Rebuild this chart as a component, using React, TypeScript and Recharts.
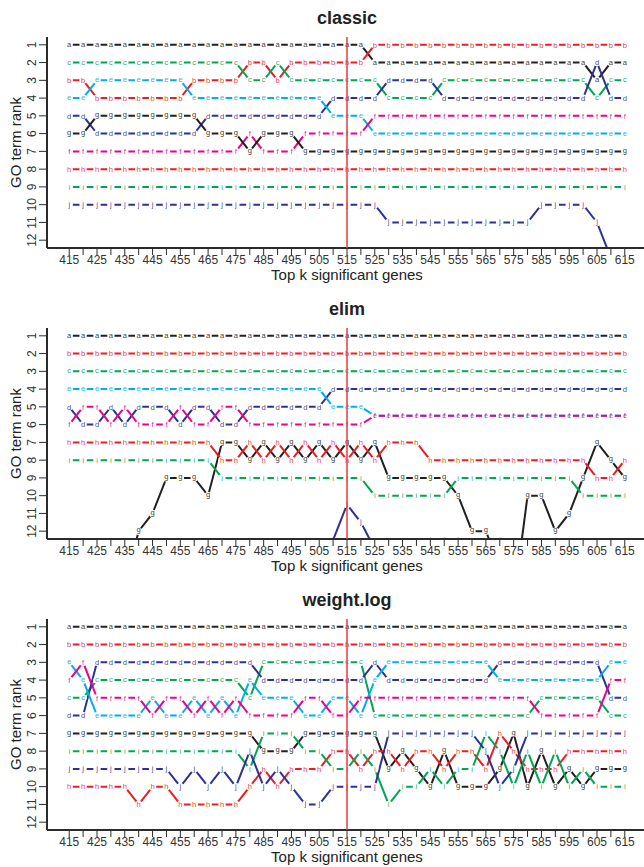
import React from 'react';
import { LineChart, Line, XAxis, YAxis, ReferenceLine } from 'recharts';

const FONT = '"Liberation Sans", Arial, Helvetica, sans-serif';

// x positions (top k significant genes)
const kValues = [415, 420, 425, 430, 435, 440, 445, 450, 455, 460, 465, 470, 475, 480, 485, 490, 495, 500, 505, 510, 515, 520, 525, 530, 535, 540, 545, 550, 555, 560, 565, 570, 575, 580, 585, 590, 595, 600, 605, 610, 615];
const xTickLabels = [415, 425, 435, 445, 455, 465, 475, 485, 495, 505, 515, 525, 535, 545, 555, 565, 575, 585, 595, 605, 615];
const rankTicks = [1, 2, 3, 4, 5, 6, 7, 8, 9, 10, 11, 12];
const cutoffK = 515;

const termLetters = ['a', 'b', 'c', 'd', 'e', 'f', 'g', 'h', 'i', 'j'];
const termColors = ['#231F20', '#ED1C24', '#00A651', '#2E3192', '#00AEEF', '#EC008C', '#231F20', '#ED1C24', '#00A651', '#2E3192'];
const letterDy: Record<string, number> = { a: 0.26, b: 0.36, c: 0.26, d: 0.36, e: 0.26, f: 0.36, g: 0.16, h: 0.36, i: 0.36, j: 0.25 };

// ---------- classic ----------
const classicA = [1, 1, 1, 1, 1, 1, 1, 1, 1, 1, 1, 1, 1, 1, 1, 1, 1, 1, 1, 1, 1, 1, 2, 2, 2, 2, 2, 2, 2, 2, 2, 2, 2, 2, 2, 2, 2, 2, 3, 2, 2];
const classicB = [3, 3, 4, 4, 4, 4, 4, 4, 4, 3, 3, 3, 3, 2, 2, 3, 2, 2, 2, 2, 2, 2, 1, 1, 1, 1, 1, 1, 1, 1, 1, 1, 1, 1, 1, 1, 1, 1, 1, 1, 1];
const classicC = [2, 2, 2, 2, 2, 2, 2, 2, 2, 2, 2, 2, 2, 3, 3, 2, 3, 3, 3, 3, 3, 3, 3, 4, 4, 4, 4, 3, 3, 3, 3, 3, 3, 3, 3, 3, 3, 3, 4, 3, 3];
const classicD = [5, 5, 6, 6, 6, 6, 6, 6, 6, 6, 5, 5, 5, 5, 5, 5, 5, 5, 5, 4, 4, 4, 4, 3, 3, 3, 3, 4, 4, 4, 4, 4, 4, 4, 4, 4, 4, 4, 2, 4, 4];
const classicE = [4, 4, 3, 3, 3, 3, 3, 3, 3, 4, 4, 4, 4, 4, 4, 4, 4, 4, 4, 5, 5, 5, 6, 6, 6, 6, 6, 6, 6, 6, 6, 6, 6, 6, 6, 6, 6, 6, 6, 6, 6];
const classicF = [7, 7, 7, 7, 7, 7, 7, 7, 7, 7, 7, 7, 7, 6, 7, 7, 7, 6, 6, 6, 6, 6, 5, 5, 5, 5, 5, 5, 5, 5, 5, 5, 5, 5, 5, 5, 5, 5, 5, 5, 5];
const classicG = [6, 6, 5, 5, 5, 5, 5, 5, 5, 5, 6, 6, 6, 7, 6, 6, 6, 7, 7, 7, 7, 7, 7, 7, 7, 7, 7, 7, 7, 7, 7, 7, 7, 7, 7, 7, 7, 7, 7, 7, 7];
const classicH = [8, 8, 8, 8, 8, 8, 8, 8, 8, 8, 8, 8, 8, 8, 8, 8, 8, 8, 8, 8, 8, 8, 8, 8, 8, 8, 8, 8, 8, 8, 8, 8, 8, 8, 8, 8, 8, 8, 8, 8, 8];
const classicI = [9, 9, 9, 9, 9, 9, 9, 9, 9, 9, 9, 9, 9, 9, 9, 9, 9, 9, 9, 9, 9, 9, 9, 9, 9, 9, 9, 9, 9, 9, 9, 9, 9, 9, 9, 9, 9, 9, 9, 9, 9];
const classicJ = [10, 10, 10, 10, 10, 10, 10, 10, 10, 10, 10, 10, 10, 10, 10, 10, 10, 10, 10, 10, 10, 10, 10, 11, 11, 11, 11, 11, 11, 11, 11, 11, 11, 11, 10, 10, 10, 10, 11, 13, 14];

// ---------- elim ----------
const elimA = [1, 1, 1, 1, 1, 1, 1, 1, 1, 1, 1, 1, 1, 1, 1, 1, 1, 1, 1, 1, 1, 1, 1, 1, 1, 1, 1, 1, 1, 1, 1, 1, 1, 1, 1, 1, 1, 1, 1, 1, 1];
const elimB = [2, 2, 2, 2, 2, 2, 2, 2, 2, 2, 2, 2, 2, 2, 2, 2, 2, 2, 2, 2, 2, 2, 2, 2, 2, 2, 2, 2, 2, 2, 2, 2, 2, 2, 2, 2, 2, 2, 2, 2, 2];
const elimC = [3, 3, 3, 3, 3, 3, 3, 3, 3, 3, 3, 3, 3, 3, 3, 3, 3, 3, 3, 3, 3, 3, 3, 3, 3, 3, 3, 3, 3, 3, 3, 3, 3, 3, 3, 3, 3, 3, 3, 3, 3];
const elimD = [5, 6, 6, 5, 6, 5, 5, 5, 6, 5, 5, 6, 6, 5, 5, 5, 5, 5, 5, 4, 4, 4, 4, 4, 4, 4, 4, 4, 4, 4, 4, 4, 4, 4, 4, 4, 4, 4, 4, 4, 4];
const elimE = [4, 4, 4, 4, 4, 4, 4, 4, 4, 4, 4, 4, 4, 4, 4, 4, 4, 4, 4, 5, 5, 5, 5.5, 5.5, 5.5, 5.5, 5.5, 5.5, 5.5, 5.5, 5.5, 5.5, 5.5, 5.5, 5.5, 5.5, 5.5, 5.5, 5.5, 5.5, 5.5];
const elimF = [6, 5, 5, 6, 5, 6, 6, 6, 5, 6, 6, 5, 5, 6, 6, 6, 6, 6, 6, 6, 6, 6, 5.5, 5.5, 5.5, 5.5, 5.5, 5.5, 5.5, 5.5, 5.5, 5.5, 5.5, 5.5, 5.5, 5.5, 5.5, 5.5, 5.5, 5.5, 5.5];
const elimG = [15, 15, 15, 15, 15, 12, 11, 9, 9, 9, 10, 7, 7, 8, 7, 8, 7, 8, 7, 8, 7, 8, 7, 9, 9, 9, 9, 9, 10, 12, 12, 14, 16, 10, 10, 12, 11, 9, 7, 8, 9];
const elimH = [7, 7, 7, 7, 7, 7, 7, 7, 7, 7, 7, 8, 8, 7, 8, 7, 8, 7, 8, 7, 8, 7, 8, 7, 7, 7, 8, 8, 8, 8, 8, 8, 8, 8, 8, 8, 8, 8, 9, 9, 8];
const elimI = [8, 8, 8, 8, 8, 8, 8, 8, 8, 8, 8, 9, 9, 9, 9, 9, 9, 9, 9, 9, 9, 9, 10, 10, 10, 10, 10, 10, 9, 9, 9, 9, 9, 9, 9, 9, 9, 10, 10, 10, 10];
const elimJ = [13, 13, 13, 13, 13, 13, 13, 13, 13, 13, 13, 13, 13, 13, 13, 13, 13, 13, 13, 12.5, 10.5, 11.5, 13, 13, 13, 13, 12.5, 12.5, 12.5, 13, 13, 12.5, 13, 13, 13, 13, 13, 13, 13, 13, 13];

// ---------- weight.log ----------
const weightA = [1, 1, 1, 1, 1, 1, 1, 1, 1, 1, 1, 1, 1, 1, 1, 1, 1, 1, 1, 1, 1, 1, 1, 1, 1, 1, 1, 1, 1, 1, 1, 1, 1, 1, 1, 1, 1, 1, 1, 1, 1];
const weightB = [2, 2, 2, 2, 2, 2, 2, 2, 2, 2, 2, 2, 2, 2, 2, 2, 2, 2, 2, 2, 2, 2, 2, 2, 2, 2, 2, 2, 2, 2, 2, 2, 2, 2, 2, 2, 2, 2, 2, 2, 2];
const weightC = [5, 5, 4, 4, 4, 4, 4, 4, 4, 4, 4, 4, 4, 5, 3, 3, 3, 3, 3, 3, 3, 3, 6, 6, 6, 6, 6, 6, 6, 6, 6, 6, 6, 6, 5, 5, 5, 5, 5, 6, 6];
const weightD = [6, 6, 3, 3, 3, 3, 3, 3, 3, 3, 3, 3, 3, 3, 4, 4, 4, 4, 4, 4, 4, 4, 3, 4, 4, 4, 4, 4, 4, 4, 4, 3, 3, 3, 3, 3, 3, 3, 3, 5, 5];
const weightE = [3, 4, 6, 6, 6, 6, 5, 6, 6, 5, 6, 5, 6, 4, 5, 5, 5, 6, 6, 5, 5, 6, 4, 3, 3, 3, 3, 3, 3, 3, 3, 4, 4, 4, 4, 4, 4, 4, 4, 3, 3];
const weightF = [4, 3, 5, 5, 5, 5, 6, 5, 5, 6, 5, 6, 5, 6, 6, 6, 6, 5, 5, 6, 6, 5, 5, 5, 5, 5, 5, 5, 5, 5, 5, 5, 5, 5, 6, 6, 6, 6, 6, 4, 4];
const weightG = [7, 7, 7, 7, 7, 7, 7, 7, 7, 7, 7, 7, 7, 7, 8, 8, 8, 7, 7, 7, 7, 7, 7, 9, 8, 9, 10, 8, 10, 10, 10, 9, 7, 10, 8, 10, 9, 10, 9, 9, 9];
const weightH = [10, 10, 10, 10, 10, 11, 10, 10, 11, 11, 11, 11, 11, 10, 9, 10, 9, 9, 9, 8, 8, 9, 8, 8, 9, 8, 8, 9, 8, 8, 9, 7, 8, 9, 9, 9, 8, 8, 8, 8, 8];
const weightI = [8, 8, 8, 8, 8, 8, 8, 8, 8, 8, 8, 8, 8, 9, 7, 7, 7, 8, 8, 9, 9, 8, 9, 11, 10, 10, 9, 10, 9, 9, 7, 8, 10, 8, 10, 8, 10, 9, 10, 10, 10];
const weightJ = [9, 9, 9, 9, 9, 9, 9, 9, 10, 9, 10, 9, 10, 8, 10, 9, 10, 11, 11, 10, 10, 10, 10, 7, 7, 7, 7, 7, 7, 7, 8, 10, 9, 7, 7, 7, 7, 7, 7, 7, 7];

const classicSeries = [classicA, classicB, classicC, classicD, classicE, classicF, classicG, classicH, classicI, classicJ];
const elimSeries = [elimA, elimB, elimC, elimD, elimE, elimF, elimG, elimH, elimI, elimJ];
const weightSeries = [weightA, weightB, weightC, weightD, weightE, weightF, weightG, weightH, weightI, weightJ];

function buildRows(series: number[][]) {
  return kValues.map((k, i) => {
    const row: Record<string, number> = { k };
    termLetters.forEach((l, s) => {
      row[l] = series[s][i];
    });
    return row;
  });
}

const AXIS_COLOR = '#2b2b2b';

const XTick = (p: any) => {
  const v = p.payload ? p.payload.value : undefined;
  if (!xTickLabels.includes(v)) return <g />;
  return (
    <text x={p.x} y={p.y + 8.5} textAnchor="middle" fontSize={12} fill="#333" fontFamily={FONT}>
      {v}
    </text>
  );
};

const YTick = (p: any) => {
  const v = p.payload ? p.payload.value : '';
  return (
    <text
      transform={`translate(${p.x - 7},${p.y}) rotate(-90)`}
      x={0}
      y={0}
      dy="0.36em"
      textAnchor="middle"
      fontSize={12}
      fill="#333"
      fontFamily={FONT}
    >
      {v}
    </text>
  );
};

const makeGapDot = (letter: string) => (p: any) => {
  const v = typeof p.value === 'number' ? p.value : p.payload ? p.payload[letter] : 0;
  if (p.cx == null || p.cy == null || v > 12.4) return <g key={`gap-${letter}-${p.index}`} />;
  return <circle key={`gap-${letter}-${p.index}`} cx={p.cx} cy={p.cy} r={3.7} fill="#ffffff" />;
};

const makeLetterDot = (letter: string, color: string) => (p: any) => {
  if (p.cx == null || p.cy == null) return <g key={`lt-${letter}-${p.index}`} />;
  return (
    <text
      key={`lt-${letter}-${p.index}`}
      x={p.cx}
      y={p.cy}
      dy={`${letterDy[letter]}em`}
      textAnchor="middle"
      fontSize={7.6}
      fontFamily={FONT}
      fill={color}
      fillOpacity={0.9}
    >
      {letter}
    </text>
  );
};

function Panel({ title, series, top }: { title: string; series: number[][]; top: number }) {
  const data = buildRows(series);
  return (
    <div style={{ position: 'absolute', left: 0, top, width: 644, height: 291, overflow: 'hidden' }}>
      <LineChart width={648} height={291} data={data} margin={{ top: 37, right: 1, bottom: 0, left: 0 }}>
        <XAxis
          dataKey="k"
          type="number"
          domain={[407, 623]}
          allowDataOverflow
          ticks={kValues}
          interval={0}
          height={43}
          tickSize={7}
          tickMargin={0}
          tick={<XTick />}
          stroke={AXIS_COLOR}
          axisLine={{ stroke: AXIS_COLOR, strokeWidth: 2 }}
          tickLine={{ stroke: AXIS_COLOR, strokeWidth: 1 }}
        />
        <XAxis
          xAxisId="top"
          orientation="top"
          dataKey="k"
          type="number"
          domain={[407, 623]}
          allowDataOverflow
          height={0}
          tick={false}
          tickLine={false}
          axisLine={{ stroke: AXIS_COLOR, strokeWidth: 1.5 }}
        />
        <YAxis
          type="number"
          domain={[0.56, 12.44]}
          reversed
          allowDataOverflow
          ticks={rankTicks}
          interval={0}
          width={47}
          tickSize={8}
          tickMargin={0}
          tick={<YTick />}
          stroke={AXIS_COLOR}
          axisLine={{ stroke: AXIS_COLOR, strokeWidth: 2 }}
          tickLine={{ stroke: AXIS_COLOR, strokeWidth: 1 }}
        />
        {termLetters.map((l, s) => (
          <Line
            key={`ln-${l}`}
            dataKey={l}
            type="linear"
            stroke={termColors[s]}
            strokeWidth={2}
            dot={false}
            activeDot={false}
            isAnimationActive={false}
          />
        ))}
        {termLetters.map((l) => (
          <Line
            key={`gap-${l}`}
            dataKey={l}
            type="linear"
            stroke="none"
            dot={makeGapDot(l)}
            activeDot={false}
            isAnimationActive={false}
          />
        ))}
        {termLetters.map((l, s) => (
          <Line
            key={`lt-${l}`}
            dataKey={l}
            type="linear"
            stroke="none"
            dot={makeLetterDot(l, termColors[s])}
            activeDot={false}
            isAnimationActive={false}
          />
        ))}
        <ReferenceLine x={cutoffK} stroke="#E8383D" strokeWidth={1.5} zIndex={1000} />
      </LineChart>
      <svg
        width={644}
        height={291}
        style={{ position: 'absolute', left: 0, top: 0, pointerEvents: 'none' }}
      >
        <text x={347} y={24} textAnchor="middle" fontSize={18} fontWeight="bold" fill="#222" fontFamily={FONT}>
          {title}
        </text>
        <text x={347} y={280} textAnchor="middle" fontSize={15} fill="#222" fontFamily={FONT}>
          Top k significant genes
        </text>
        <text
          transform="translate(20.5,142.5) rotate(-90)"
          x={0}
          y={0}
          textAnchor="middle"
          fontSize={15}
          fill="#222"
          fontFamily={FONT}
        >
          GO term rank
        </text>
      </svg>
    </div>
  );
}

export default function App() {
  return (
    <div
      style={{
        position: 'absolute',
        left: 0,
        top: 0,
        width: 644,
        height: 867,
        overflow: 'hidden',
        background: '#ffffff',
        fontFamily: FONT,
      }}
    >
      <Panel title="classic" series={classicSeries} top={0} />
      <Panel title="elim" series={elimSeries} top={291} />
      <Panel title="weight.log" series={weightSeries} top={582} />
    </div>
  );
}
